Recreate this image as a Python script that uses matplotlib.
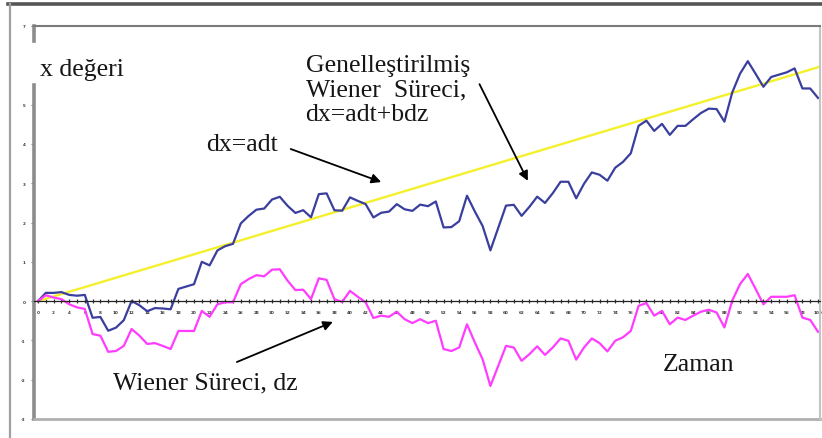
import matplotlib.pyplot as plt
from matplotlib.lines import Line2D
import numpy as np

# Wiener process dz, one value per time step
wiener = [0, 0.15, 0.09, 0.05, -0.08, -0.16, -0.20, -0.84, -0.88, -1.29,
          -1.27, -1.14, -0.71, -0.88, -1.09, -1.07, -1.14, -1.22, -0.76, -0.76,
          -0.76, -0.25, -0.40, -0.08, -0.03, -0.03, 0.43, 0.56, 0.66, 0.63,
          0.80, 0.81, 0.52, 0.28, 0.29, 0.05, 0.58, 0.54, 0.05, -0.02,
          0.26, 0.11, -0.03, -0.43, -0.37, -0.40, -0.27, -0.46, -0.56, -0.46,
          -0.56, -0.50, -1.22, -1.27, -1.18, -0.59, -1.05, -1.48, -2.16, -1.65,
          -1.14, -1.18, -1.52, -1.35, -1.15, -1.37, -1.18, -0.95, -1.01, -1.49,
          -1.18, -0.95, -1.07, -1.28, -1.01, -0.92, -0.76, -0.12, -0.05, -0.37,
          -0.25, -0.59, -0.42, -0.48, -0.37, -0.27, -0.22, -0.29, -0.67, 0.01,
          0.43, 0.69, 0.31, -0.08, 0.11, 0.11, 0.11, 0.15, -0.42, -0.48, -0.78]

# deterministic drift adt: value at start and end of the period
drift_ends = [0.0, 5.95]

y_ticks = [-3, -2, -1, 0, 1, 2, 3, 4, 5, 7]

t = np.arange(len(wiener))
n = len(wiener) - 1
drift_t = [0, n]
# generalised Wiener process dx = adt + bdz
general = np.array(wiener) + drift_ends[1] / n * t

serif = 'Liberation Serif'
txt = '#161616'

fig = plt.figure(figsize=(8.22, 4.39), dpi=100)
W, H = 822, 439
ax = fig.add_axes([34 / W, 1 - 420 / H, (820 - 34) / W, (420 - 27) / H])

ax.plot(drift_t, drift_ends, color='#f4f02c', lw=1.7)
ax.plot(t, general, color='#3a3f9e', lw=1.6)
ax.plot(t, wiener, color='#ff3cff', lw=1.6)

px = 780 / n
ax.set_xlim(-4 / px, n + 2 / px)
ax.set_ylim(-3, 7)

# time axis runs through zero
ax.spines['bottom'].set_position(('data', 0))
ax.spines['bottom'].set_color('#222222')
ax.spines['bottom'].set_linewidth(0.9)
ax.set_xticks(np.arange(0, n + 1, 2))
ax.set_xticks(np.arange(0, n + 1, 1), minor=True)
ax.set_xticklabels([str(v) for v in range(0, n + 1, 2)], fontsize=3,
                   fontweight='bold', color='#3a3a3a')
ax.tick_params(axis='x', which='both', length=2.5, width=0.9, direction='inout',
               color='#333333', pad=5.5)

ax.set_yticks(y_ticks)
ax.set_yticklabels([str(v) for v in y_ticks], fontsize=3, fontweight='bold',
                   color='#3a3a3a')
ax.tick_params(axis='y', length=2, width=0.8, color='#777777', pad=4)

ax.spines['left'].set_visible(False)
ax.spines['top'].set_color('#7a7a7a')
ax.spines['top'].set_linewidth(1.5)
ax.spines['right'].set_color('#c4c4c4')
ax.spines['right'].set_linewidth(1.5)

# left axis with a break for the label, and the lower border
ax.plot([0, 0], [0, 0.85], transform=ax.transAxes, color='#8c8c8c', lw=2.6, clip_on=False)
ax.plot([0, 0], [0.962, 1], transform=ax.transAxes, color='#8c8c8c', lw=2.6, clip_on=False)
ax.plot([0, 1], [0, 0], transform=ax.transAxes, color='#b0b0b0', lw=2, clip_on=False)

# outer frame
fig.add_artist(Line2D([8 / W, 1], [1 - 5 / H, 1 - 5 / H], color='#555555', lw=2.6))
fig.add_artist(Line2D([10 / W, 10 / W], [0, 1 - 5 / H], color='#a0a0a0', lw=1.6))

fs = 18.5
ax.text(0.26, 5.91, 'x değeri', family=serif, fontsize=fs, color=txt, va='center')
ax.text(80.1, -1.60, 'Zaman', family=serif, fontsize=fs, color=txt, va='center')

arrow = dict(arrowstyle='-|>', color='black', lw=1.3, mutation_scale=14,
             shrinkA=0, shrinkB=0)
ax.annotate('', xy=(44.0, 3.03), xytext=(32.4, 3.87), arrowprops=arrow)
ax.text(21.5, 4.0, 'dx=adt', family=serif, fontsize=fs, color=txt, va='center')

ax.annotate('', xy=(62.8, 3.06), xytext=(56.6, 5.52), arrowprops=arrow)
ax.text(34.3, 5.38, 'Genelleştirilmiş\nWiener  Süreci,\ndx=adt+bdz', family=serif,
        fontsize=fs, color=txt, va='center', linespacing=1.16)

ax.annotate('', xy=(37.8, -0.53), xytext=(25.5, -1.55), arrowprops=arrow)
ax.text(9.6, -2.06, 'Wiener Süreci, dz', family=serif, fontsize=fs, color=txt, va='center')

fig.savefig('out.png', dpi=100)
plt.close(fig)
